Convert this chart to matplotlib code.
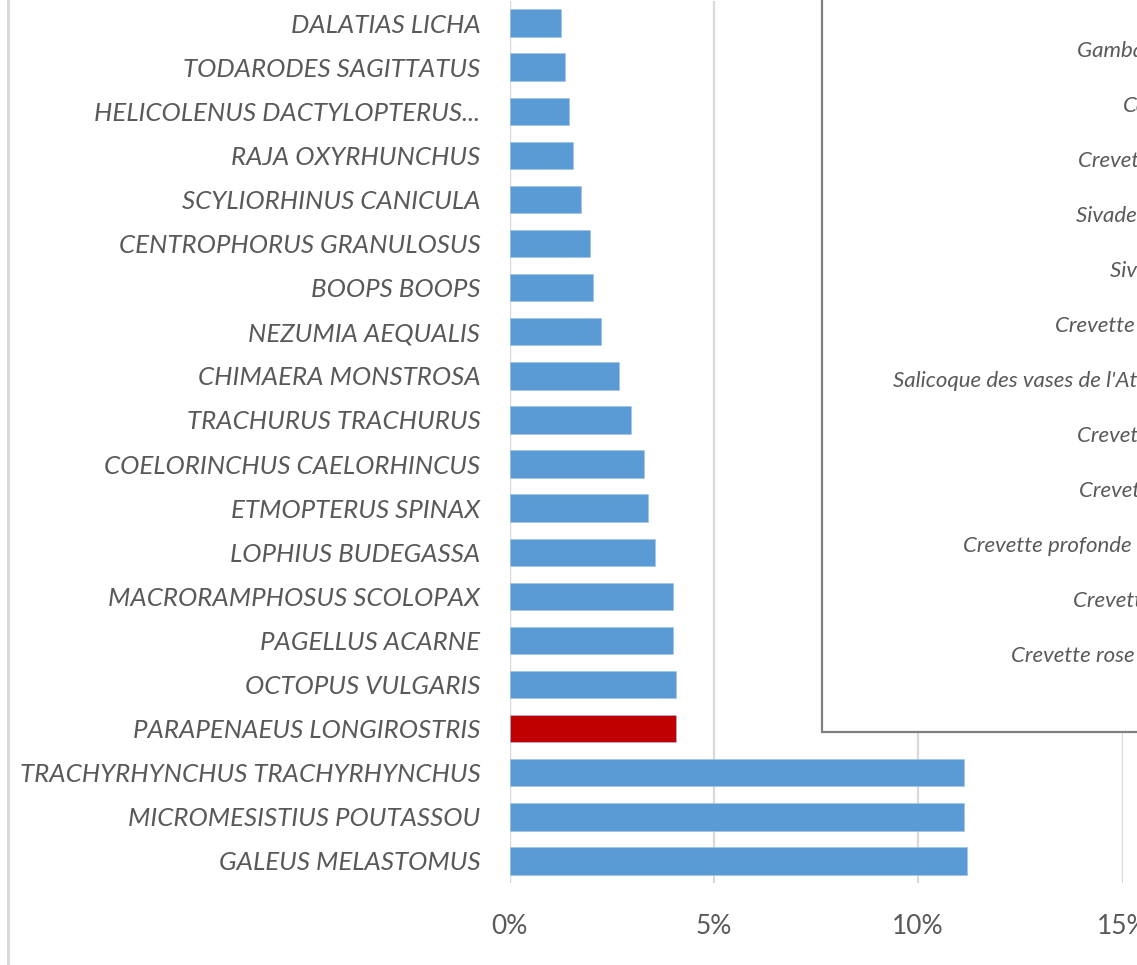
import matplotlib
matplotlib.use("Agg")
import matplotlib.pyplot as plt
from matplotlib.patches import Rectangle
from matplotlib.lines import Line2D
from matplotlib.ticker import FuncFormatter

species = [
    "DALATIAS LICHA", "TODARODES SAGITTATUS", "HELICOLENUS DACTYLOPTERUS...",
    "RAJA OXYRHUNCHUS", "SCYLIORHINUS CANICULA", "CENTROPHORUS GRANULOSUS",
    "BOOPS BOOPS", "NEZUMIA AEQUALIS", "CHIMAERA MONSTROSA",
    "TRACHURUS TRACHURUS", "COELORINCHUS CAELORHINCUS", "ETMOPTERUS SPINAX",
    "LOPHIUS BUDEGASSA", "MACRORAMPHOSUS SCOLOPAX", "PAGELLUS ACARNE",
    "OCTOPUS VULGARIS", "PARAPENAEUS LONGIROSTRIS",
    "TRACHYRHYNCHUS TRACHYRHYNCHUS", "MICROMESISTIUS POUTASSOU",
    "GALEUS MELASTOMUS",
]
shares = [1.25, 1.36, 1.45, 1.56, 1.75, 1.97, 2.05, 2.25, 2.67, 2.97,
          3.28, 3.39, 3.57, 3.99, 3.99, 4.07, 4.07, 11.12, 11.12, 11.19]
highlight = "PARAPENAEUS LONGIROSTRIS"

box_names = [
    "Gamba rouge", "Caramote", "Crevette nordique", "Sivade rose",
    "Sivade grise", "Crevette grise", "Salicoque des vases de l'Atlantique",
    "Crevette royale", "Crevette ésope", "Crevette profonde rouge",
    "Crevette géante", "Crevette rose du large",
]
box_text_x = [1077, 1123, 1078, 1076, 1110, 1055, 893, 1077, 1079, 963, 1073, 1011]

xticks = [0, 5, 10, 15]

W, H = 1137, 965
fig = plt.figure(figsize=(W / 100, H / 100), dpi=100)
fig.patch.set_facecolor("white")

ax_left, ax_right = 509.5 / W, 1122.5 / W
ax_top, ax_bot = 1 - 1 / H, 1 - 883 / H
ax = fig.add_axes([ax_left, ax_bot, ax_right - ax_left, ax_top - ax_bot])

ypos = list(range(len(species)))
colors = ["#C00000" if s == highlight else "#5B9BD5" for s in species]
ax.barh(ypos, shares, height=0.62, color=colors, zorder=3,
        edgecolor="#9DC3E6", linewidth=0.4)
ax.set_ylim(len(species) - 0.5, -0.5)
ax.set_xlim(0, 15)
ax.set_yticks(ypos)
ax.set_yticklabels(species)
ax.set_xticks(xticks)
ax.xaxis.set_major_formatter(FuncFormatter(lambda v, p: f"{v:.0f}%"))

for lab in ax.get_yticklabels():
    lab.set_fontfamily("Lato")
    lab.set_fontstyle("italic")
    lab.set_fontsize(18.6)
    lab.set_color("#595959")
for lab in ax.get_xticklabels():
    lab.set_fontfamily("Lato")
    lab.set_fontsize(19)
    lab.set_color("#595959")

ax.tick_params(axis="y", length=0, pad=21)
ax.tick_params(axis="x", length=0, pad=22)
ax.grid(axis="x", color="#D9D9D9", linewidth=1.6, zorder=0)
for side in ["top", "right", "bottom", "left"]:
    ax.spines[side].set_visible(False)
ax.axvline(0, color="#D9D9D9", linewidth=1.6, zorder=1)

# left border of the chart area
fig.add_artist(Line2D([8 / W, 8 / W], [0, 1], transform=fig.transFigure,
                      color="#D9D9D9", linewidth=2.2))

# box on the right (cropped in the reference)
bx0, by0 = 822 / W, 1 - 732 / H
fig.add_artist(Rectangle((bx0, by0), 1.2 - bx0, 1.2 - by0,
                         transform=fig.transFigure, facecolor="white",
                         edgecolor="#808080", linewidth=1.6, zorder=5))
for i, (name, x) in enumerate(zip(box_names, box_text_x)):
    y = 51 + 55 * i
    fig.text(x / W, 1 - y / H, name, ha="left", va="center",
             fontfamily="Lato", fontstyle="italic", fontsize=16,
             color="#595959", zorder=6)

fig.savefig("out.png", dpi=100, facecolor="white")
